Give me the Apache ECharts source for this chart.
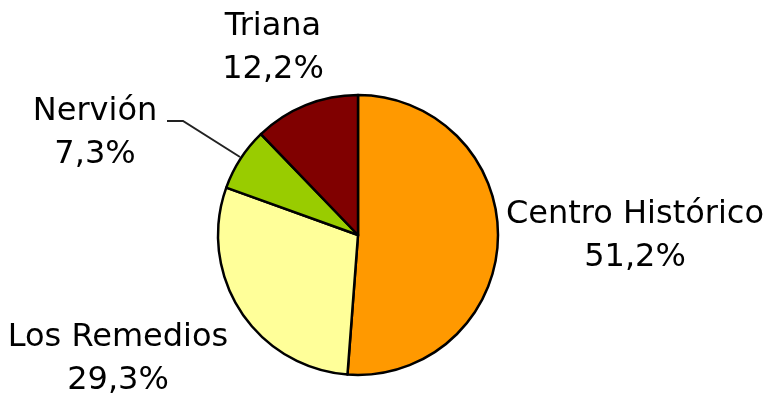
<!DOCTYPE html>
<html>
<head>
<meta charset="utf-8">
<style>
  html, body { margin: 0; padding: 0; background: #fff; }
  #chart { width: 776px; height: 401px; }
</style>
<script src="https://cdn.jsdelivr.net/npm/echarts@6/dist/echarts.min.js"></script>
</head>
<body>
<div id="chart"></div>
<script>
// barrios y porcentajes
var barrios = ["Centro Histórico", "Los Remedios", "Nervión", "Triana"];
var porcentajes = [51.2, 29.3, 7.3, 12.2];
var colores = ["#ff9900", "#ffff99", "#99cc00", "#800000"];

// where each label block sits (centre of the two lines)
var labelPos = [
  [635, 236],
  [118, 359],
  [95, 133],
  [273, 48]
];

var chart = echarts.init(document.getElementById("chart"));

chart.setOption({
  animation: false,
  series: [
    {
      type: "pie",
      center: [358, 235],
      radius: 140,
      startAngle: 90,
      clockwise: true,
      itemStyle: {
        borderColor: "#000",
        borderWidth: 2.5,
      },
      label: {
        show: true,
        position: "outside",
        overflow: "none",
        color: "#000",
        fontFamily: "DejaVu Sans",
        fontSize: 32,
        lineHeight: 43,
        align: "center",
        formatter: function (p) {
          return p.name + "\n" + p.value.toFixed(1).replace(".", ",") + "%";
        },
      },
      labelLine: {
        show: false,
      },
      labelLayout: function (params) {
        var pos = labelPos[params.dataIndex];
        var out = {
          x: pos[0],
          y: pos[1],
          align: "center",
          verticalAlign: "middle",
        };
        // Nervión connector: short flat bit then down to the slice edge
        if (params.dataIndex === 2) {
          out.labelLinePoints = [[240, 157], [183, 121], [167, 121]];
        }
        return out;
      },
      emphasis: { disabled: true },
      data: barrios.map(function (b, i) {
        var item = {
          name: b,
          value: porcentajes[i],
          itemStyle: { color: colores[i] },
        };
        if (b === "Nervión") {
          item.labelLine = {
            show: true,
            lineStyle: { color: "#222", width: 2 },
          };
        }
        return item;
      }),
    },
  ],
});
</script>
</body>
</html>
